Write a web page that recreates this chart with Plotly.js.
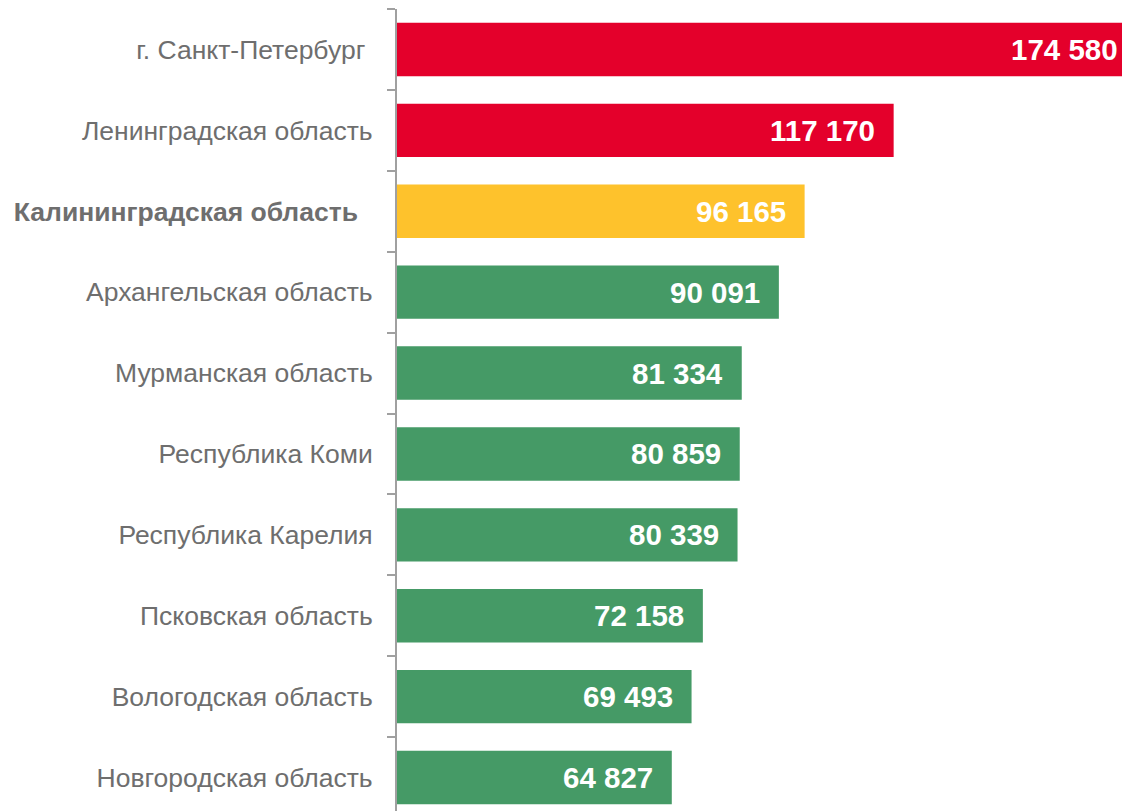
<!DOCTYPE html>
<html>
<head>
<meta charset="utf-8">
<script src="https://cdn.plot.ly/plotly-3.0.1.min.js"></script>
<style>
html, body { margin: 0; padding: 0; overflow: hidden; background: #fff; }
#chart { width: 1137px; height: 818px; }
</style>
</head>
<body>
<div id="chart"></div>
<script>
const regions = [
  "г. Санкт-Петербург\u00A0",
  "Ленинградская область",
  "<b>Калининградская область</b>\u00A0\u00A0",
  "Архангельская область",
  "Мурманская область",
  "Республика Коми",
  "Республика Карелия",
  "Псковская область",
  "Вологодская область",
  "Новгородская область"
];
const values = [174580, 117170, 96165, 90091, 81334, 80859, 80339, 72158, 69493, 64827];
const barColors = ["#E4002B", "#E4002B", "#FEC22C", "#459A66", "#459A66", "#459A66", "#459A66", "#459A66", "#459A66", "#459A66"];

function fmt(v) {
  return String(v).replace(/\B(?=(\d{3})+(?!\d))/g, "\u00A0");
}

const trace = {
  type: "bar",
  orientation: "h",
  y: regions,
  x: values,
  marker: { color: barColors, line: { width: 0 } },
  hoverinfo: "skip",
  cliponaxis: true
};

const annotations = values.map((v, i) => ({
  x: v,
  y: regions[i],
  xref: "x",
  yref: "y",
  text: "<b>" + fmt(v) + "</b>",
  showarrow: false,
  xanchor: "right",
  yanchor: "middle",
  xshift: -17,
  font: { family: "Liberation Sans, Arial, sans-serif", size: 29.5, color: "#FFFFFF" }
}));

const layout = {
  width: 1137,
  height: 818,
  margin: { l: 397, r: 0, t: 9, b: 0, pad: 0 },
  paper_bgcolor: "#FFFFFF",
  plot_bgcolor: "#FFFFFF",
  bargap: 0.34,
  showlegend: false,
  annotations: annotations,
  xaxis: {
    range: [0, 174580],
    visible: false,
    fixedrange: true
  },
  yaxis: {
    type: "category",
    autorange: "reversed",
    showline: true,
    linecolor: "#A0A0A0",
    linewidth: 2,
    ticks: "outside",
    tickson: "boundaries",
    ticklen: 8,
    tickwidth: 2,
    tickcolor: "#A0A0A0",
    showgrid: false,
    zeroline: false,
    ticklabelstandoff: 17,
    tickfont: { family: "Liberation Sans, Arial, sans-serif", size: 26.5, color: "#6E6E6E" },
    fixedrange: true
  }
};

Plotly.newPlot("chart", [trace], layout, { displayModeBar: false, staticPlot: true });
</script>
</body>
</html>
